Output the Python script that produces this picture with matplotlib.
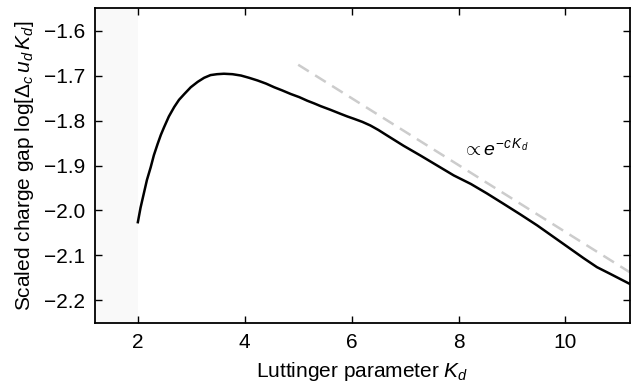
import matplotlib.pyplot as plt

plt.rcParams['font.family'] = ['Liberation Sans', 'DejaVu Sans']
plt.rcParams['mathtext.fontset'] = 'custom'
plt.rcParams['mathtext.rm'] = 'Liberation Sans'
plt.rcParams['mathtext.it'] = 'Liberation Sans:italic'

# scaled charge gap vs Luttinger parameter
k_d = [2.0, 2.05, 2.11, 2.17, 2.24, 2.3, 2.37, 2.43, 2.49, 2.58, 2.68, 2.77, 2.87,
       2.99, 3.12, 3.24, 3.36, 3.48, 3.61, 3.77, 3.93, 4.08, 4.24, 4.4, 4.55,
       4.7, 4.86, 5.02, 5.17, 5.3, 5.42, 5.6, 5.79, 5.92, 6.04, 6.2, 6.35,
       6.5, 6.66, 6.97, 7.29, 7.6, 7.91, 8.23, 8.53, 8.84, 9.16, 9.47, 9.78,
       10.09, 10.34, 10.59, 10.84, 11.02, 11.2]
gap = [-2.026, -1.994, -1.963, -1.932, -1.904, -1.877, -1.852, -1.832, -1.815,
       -1.791, -1.770, -1.754, -1.741, -1.726, -1.714, -1.705, -1.699, -1.697,
       -1.696, -1.697, -1.700, -1.705, -1.711, -1.718, -1.726, -1.733, -1.741,
       -1.748, -1.756, -1.762, -1.768, -1.776, -1.785, -1.791, -1.796, -1.803,
       -1.811, -1.821, -1.833, -1.856, -1.878, -1.900, -1.922, -1.941, -1.962,
       -1.985, -2.009, -2.033, -2.059, -2.085, -2.106, -2.126, -2.141, -2.152,
       -2.163]

# exponential asymptote (straight on the log scale)
fit_k = [5.0, 11.2]
fit_gap = [-1.676, -2.137]

fig, ax = plt.subplots(figsize=(6.34, 3.84), dpi=100)
fig.subplots_adjust(left=0.15, right=0.993, top=0.979, bottom=0.159)

ax.axvspan(1.2, 2.0, color='#f9f9f9', lw=0, zorder=0)
ax.plot(fit_k, fit_gap, ls=(0, (5, 3)), color='#cccccc', lw=1.8)
ax.plot(k_d, gap, color='black', lw=1.8)
ax.text(8.07, -1.862, r'$\propto e^{-c\,K_d}$', fontsize=14, ha='left', va='center')

ax.set_xlim(1.2, 11.2)
ax.set_ylim(-2.25, -1.55)
ax.set_xticks([2, 4, 6, 8, 10])
ax.set_yticks([-2.2, -2.1, -2.0, -1.9, -1.8, -1.7, -1.6])
ax.set_yticklabels(['\u22122.2', '\u22122.1', '\u22122.0', '\u22121.9',
                    '\u22121.8', '\u22121.7', '\u22121.6'])
ax.tick_params(direction='in', top=True, right=True, labelsize=15, length=5,
               width=1.0, pad=7)
for spine in ax.spines.values():
    spine.set_linewidth(1.3)

ax.set_xlabel(r'Luttinger parameter $K_d$', fontsize=15, labelpad=6)
ax.set_ylabel(r'Scaled charge gap log[$\Delta_c\, u_d\, K_d$]', fontsize=15,
              labelpad=6)

fig.savefig('out.png')
